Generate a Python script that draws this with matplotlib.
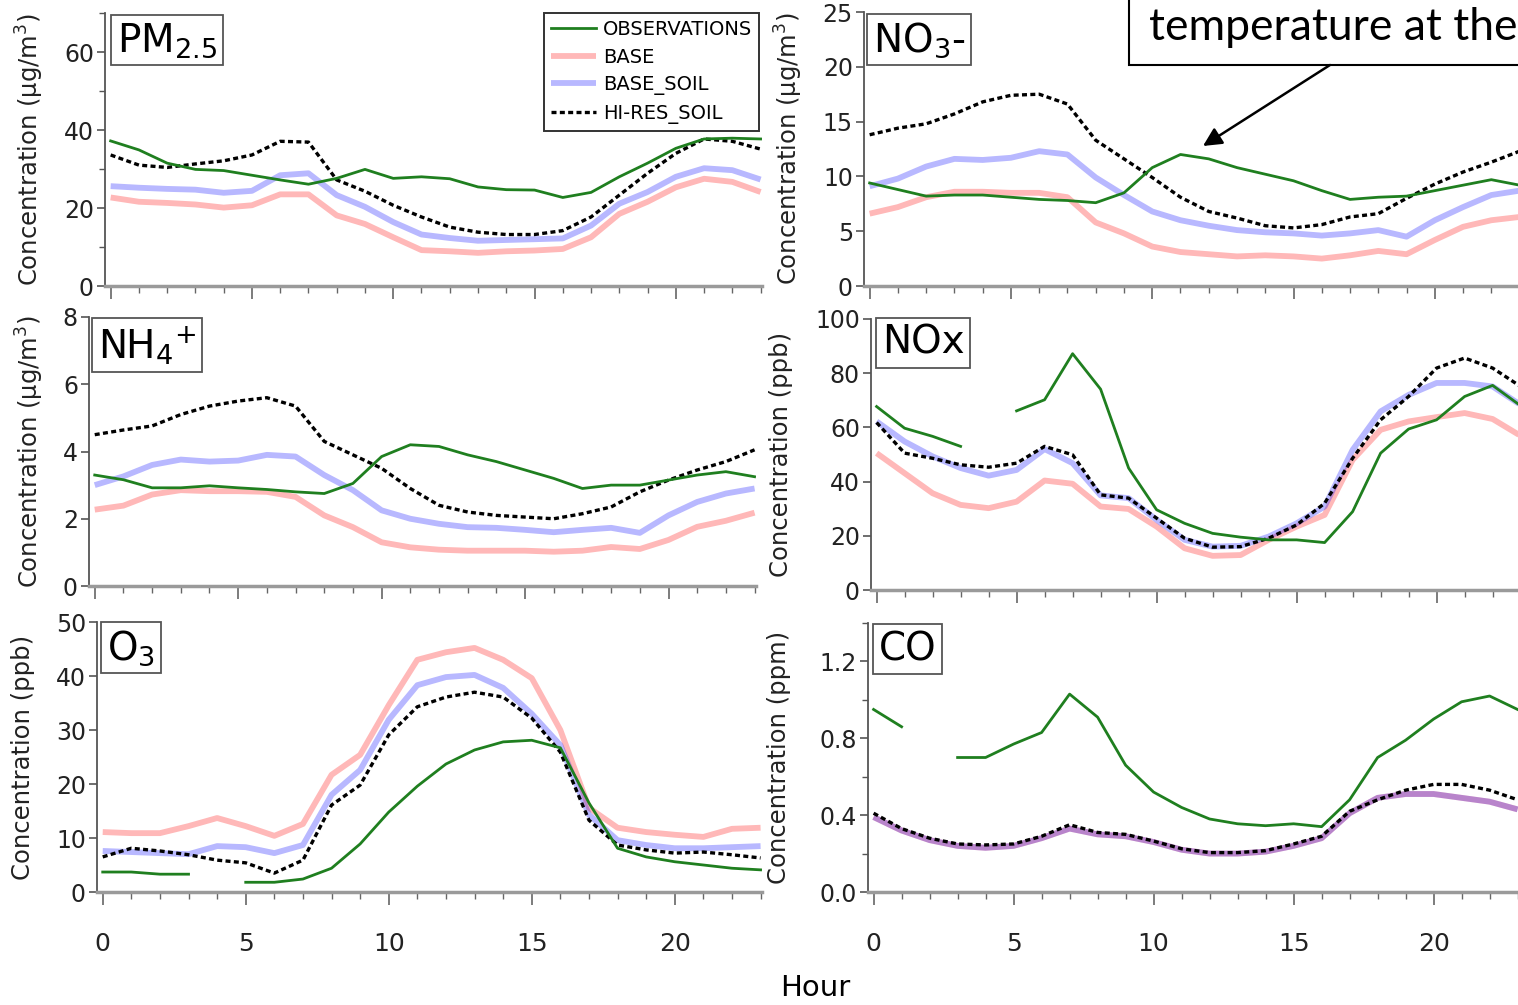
import numpy as np
import matplotlib.pyplot as plt
from matplotlib.patches import Rectangle, FancyArrowPatch
from matplotlib.ticker import MultipleLocator

plt.rcParams['mathtext.default'] = 'regular'
plt.rcParams['font.family'] = ['DejaVu Sans']

nan = np.nan
hours = np.arange(24)

# PM2.5 (ug/m3)
pm_obs = [37.2, 34.9, 31.5, 29.9, 29.6, 28.4, 27.2, 26.1, 27.6, 29.9, 27.6, 28.0,
          27.5, 25.4, 24.7, 24.6, 22.7, 24.0, 28.0, 31.5, 35.3, 37.7, 37.9, 37.7]
pm_base = [22.7, 21.6, 21.3, 20.9, 20.1, 20.7, 23.5, 23.5, 18.1, 15.9, 12.5, 9.2,
           8.9, 8.5, 8.9, 9.1, 9.5, 12.5, 18.5, 21.6, 25.3, 27.5, 26.7, 24.1]
pm_soil = [25.6, 25.2, 24.9, 24.7, 23.9, 24.4, 28.4, 28.9, 23.3, 20.3, 16.4, 13.2,
           12.3, 11.6, 11.8, 12.0, 12.2, 15.5, 21.1, 24.1, 28.0, 30.2, 29.7, 27.3]
pm_hires = [33.6, 31.0, 30.4, 31.3, 32.1, 33.6, 37.1, 36.9, 27.2, 24.3, 20.7, 17.7,
            15.1, 13.8, 13.2, 13.2, 14.2, 17.7, 23.3, 28.9, 34.0, 37.7, 37.1, 35.1]

# NO3- (ug/m3)
no3_obs = [9.4, 8.8, 8.2, 8.3, 8.3, 8.1, 7.9, 7.8, 7.6, 8.5, 10.8, 12.0,
           11.6, 10.8, 10.2, 9.6, 8.7, 7.9, 8.1, 8.2, 8.7, 9.2, 9.7, 9.2]
no3_base = [6.6, 7.2, 8.1, 8.6, 8.6, 8.5, 8.5, 8.1, 5.8, 4.8, 3.6, 3.1,
            2.9, 2.7, 2.8, 2.7, 2.5, 2.8, 3.2, 2.9, 4.2, 5.4, 6.0, 6.3]
no3_soil = [9.1, 9.8, 10.9, 11.6, 11.5, 11.7, 12.3, 12.0, 9.9, 8.3, 6.8, 6.0,
            5.5, 5.1, 4.9, 4.8, 4.6, 4.8, 5.1, 4.5, 6.0, 7.2, 8.3, 8.7]
no3_hires = [13.8, 14.4, 14.8, 15.7, 16.8, 17.4, 17.5, 16.6, 13.3, 11.6, 9.9, 8.1,
             6.8, 6.2, 5.5, 5.3, 5.6, 6.3, 6.6, 8.0, 9.3, 10.4, 11.3, 12.3]

# NH4+ (ug/m3)
nh4_obs = [3.3, 3.16, 2.92, 2.92, 2.98, 2.92, 2.87, 2.8, 2.75, 3.05, 3.85, 4.2,
           4.15, 3.9, 3.7, 3.45, 3.2, 2.9, 3.0, 3.0, 3.15, 3.3, 3.4, 3.25]
nh4_base = [2.27, 2.39, 2.72, 2.85, 2.82, 2.82, 2.8, 2.65, 2.1, 1.75, 1.3, 1.15,
            1.08, 1.05, 1.05, 1.05, 1.02, 1.05, 1.16, 1.1, 1.37, 1.76, 1.94, 2.18]
nh4_soil = [3.0, 3.26, 3.6, 3.76, 3.7, 3.73, 3.9, 3.85, 3.3, 2.85, 2.25, 2.0,
            1.85, 1.75, 1.73, 1.67, 1.6, 1.67, 1.73, 1.58, 2.1, 2.5, 2.75, 2.9]
nh4_hires = [4.5, 4.64, 4.76, 5.1, 5.35, 5.5, 5.6, 5.35, 4.3, 3.9, 3.5, 2.9,
             2.4, 2.2, 2.1, 2.05, 2.0, 2.15, 2.35, 2.8, 3.15, 3.45, 3.7, 4.05]

# NOx (ppb)
nox_obs = [67.7, 59.7, 56.7, 53.0, nan, 66.1, 70.2, 87.2, 74.1, 45.0, 29.6, 24.6,
           20.9, 19.5, 18.5, 18.5, 17.5, 28.9, 50.5, 59.4, 62.8, 71.4, 75.5, 68.0]
nox_base = [50.5, 43.1, 35.7, 31.4, 30.2, 32.6, 40.4, 39.2, 30.8, 29.9, 23.4, 15.4,
            12.6, 12.9, 18.5, 23.4, 27.7, 48.0, 59.1, 62.2, 63.8, 65.3, 63.1, 56.9]
nox_soil = [62.2, 54.8, 49.3, 45.0, 42.2, 44.3, 52.0, 46.8, 34.9, 33.9, 25.9, 18.5,
            16.0, 16.3, 19.7, 24.6, 30.8, 51.7, 65.9, 72.0, 76.4, 76.4, 75.1, 68.3]
nox_hires = [61.8, 50.5, 48.6, 46.2, 45.3, 46.8, 53.0, 49.9, 35.1, 33.9, 26.5, 19.1,
             15.8, 16.0, 19.1, 24.0, 32.0, 48.6, 62.8, 71.4, 81.9, 85.6, 81.9, 75.1]

# O3 (ppb)
o3_obs = [3.7, 3.7, 3.3, 3.3, nan, 1.8, 1.8, 2.4, 4.4, 8.9, 14.8, 19.6,
          23.7, 26.3, 27.8, 28.1, 26.7, 16.5, 8.1, 6.5, 5.6, 5.0, 4.4, 4.1]
o3_base = [11.1, 10.9, 10.9, 12.2, 13.7, 12.2, 10.4, 12.6, 21.7, 25.4, 34.6, 43.0,
           44.4, 45.2, 43.0, 39.6, 30.0, 15.6, 11.9, 11.1, 10.6, 10.2, 11.7, 11.9]
o3_soil = [7.6, 7.4, 7.2, 7.0, 8.5, 8.3, 7.2, 8.7, 18.0, 22.6, 31.9, 38.3,
           39.8, 40.2, 37.8, 33.0, 27.2, 14.3, 9.6, 8.7, 8.1, 8.1, 8.3, 8.5]
o3_hires = [6.5, 8.1, 7.6, 6.9, 5.9, 5.4, 3.5, 5.9, 16.1, 19.8, 29.1, 34.3,
            36.1, 37.0, 36.1, 32.2, 25.9, 13.3, 8.7, 7.8, 7.2, 7.4, 6.9, 6.3]

# CO (ppm)
co_obs = [0.95, 0.86, nan, 0.70, 0.70, 0.77, 0.83, 1.03, 0.91, 0.66, 0.52, 0.44,
          0.38, 0.355, 0.345, 0.355, 0.34, 0.48, 0.70, 0.79, 0.90, 0.99, 1.02, 0.95]
co_base = [0.39, 0.32, 0.27, 0.24, 0.23, 0.24, 0.28, 0.33, 0.30, 0.29, 0.26, 0.22,
           0.20, 0.20, 0.21, 0.24, 0.28, 0.41, 0.49, 0.51, 0.51, 0.49, 0.47, 0.43]
co_soil = [0.39, 0.32, 0.27, 0.24, 0.23, 0.24, 0.28, 0.33, 0.30, 0.29, 0.26, 0.22,
           0.20, 0.20, 0.21, 0.24, 0.28, 0.41, 0.49, 0.51, 0.51, 0.49, 0.47, 0.43]
co_hires = [0.41, 0.33, 0.28, 0.25, 0.245, 0.25, 0.29, 0.35, 0.31, 0.30, 0.265, 0.225,
            0.205, 0.205, 0.215, 0.25, 0.29, 0.42, 0.48, 0.53, 0.56, 0.56, 0.53, 0.48]

W, H = 1518, 1005
fig = plt.figure(figsize=(W / 100, H / 100), dpi=100)

UG = r'Concentration ($\mu$g/m$^{3}$)'
# (data, ylim top, major, minor, ylabel, panel name, axes box px [left, right, top, bottom], ylabel x px, name box px)
panels = [
    ((pm_obs, pm_base, pm_soil, pm_hires), 70, 20, 10, UG, r'PM$_{2.5}$', (105, 762, 13, 286), 30, (112, 15)),
    ((no3_obs, no3_base, no3_soil, no3_hires), 25, 5, None, UG, r'NO$_3$-', (864, 1521, 12, 286), 789, (868, 14)),
    ((nh4_obs, nh4_base, nh4_soil, nh4_hires), 8, 2, None, UG, r'NH$_4$$^{+}$', (89, 756, 317, 586), 30, (93, 318)),
    ((nox_obs, nox_base, nox_soil, nox_hires), 100, 20, None, 'Concentration (ppb)', 'NOx', (871, 1522, 319, 590), 781, (877, 318)),
    ((o3_obs, o3_base, o3_soil, o3_hires), 50, 10, None, 'Concentration (ppb)', r'O$_3$', (97, 762, 622, 892), 23, (102, 622)),
    ((co_obs, co_base, co_soil, co_hires), 1.4, 0.4, 0.2, 'Concentration (ppm)', 'CO', (868, 1519, 623, 892), 779, (874, 624)),
]

green = '#1f7f1f'
names = ['OBSERVATIONS', 'BASE', 'BASE_SOIL', 'HI-RES_SOIL']

for i, (data, ytop, major, minor, ylab, name, box, labx, namepos) in enumerate(panels):
    left, right, top, bottom = box
    ax = fig.add_axes([left / W, 1 - bottom / H, (right - left) / W, (bottom - top) / H])
    obs, base, soil, hires = data
    ax.plot(hours, base, color='red', alpha=0.28, lw=4.2, solid_capstyle='butt', label=names[1])
    ax.plot(hours, soil, color='blue', alpha=0.28, lw=4.2, solid_capstyle='butt', label=names[2])
    ax.plot(hours, hires, color='black', lw=2.4, ls=(0, (1.5, 1.0)), label=names[3])
    ax.plot(hours, obs, color=green, lw=2.0, label=names[0])

    ax.set_xlim(-0.2, 23.05)
    ax.set_ylim(0, ytop)
    ax.xaxis.set_major_locator(MultipleLocator(5))
    ax.xaxis.set_minor_locator(MultipleLocator(1))
    ax.yaxis.set_major_locator(MultipleLocator(major))
    if minor:
        ax.yaxis.set_minor_locator(MultipleLocator(minor))
    if ytop == 1.4:
        ax.yaxis.set_major_formatter(plt.FormatStrFormatter('%.1f'))

    for s in ['top', 'right']:
        ax.spines[s].set_visible(False)
    ax.spines['left'].set_color('#555555')
    ax.spines['left'].set_linewidth(1.3)
    ax.spines['bottom'].set_color('#9a9a9a')
    ax.spines['bottom'].set_linewidth(2.5)
    ax.tick_params(axis='y', which='major', direction='out', length=6, width=1.2,
                   color='#555555', labelsize=17, labelcolor='#222222', pad=2)
    ax.tick_params(axis='y', which='minor', direction='out', length=4, width=1.0, color='#555555')
    ax.tick_params(axis='x', which='major', direction='out', length=9, width=1.2, color='#666666')
    ax.tick_params(axis='x', which='minor', direction='out', length=5, width=1.0, color='#666666')
    if i < 4:
        ax.tick_params(axis='x', labelbottom=False)
    else:
        ax.tick_params(axis='x', labelsize=18, pad=20, labelcolor='#222222')
        for t in ax.get_xticklabels():
            t.set_family(['Liberation Sans Narrow', 'DejaVu Sans'])

    ax.set_ylabel(ylab, fontsize=17.5, color='#222222', va='center')
    ax.yaxis.set_label_coords((labx - left) / (right - left), 0.5)

    fig.text((namepos[0] + 5) / W, 1 - (namepos[1] + 6) / H, name, fontsize=28,
             ha='left', va='top',
             bbox=dict(boxstyle='square,pad=0.15', fc='white', ec='#555555', lw=1.3))

    if i == 0:
        handles, labels = ax.get_legend_handles_labels()
        order = [3, 0, 1, 2]
        leg = ax.legend([handles[k] for k in order], [labels[k] for k in order],
                        loc='upper right', bbox_to_anchor=(0.995, 1.0), borderaxespad=0.0,
                        fancybox=False, framealpha=1, edgecolor='#333333',
                        handlelength=2.3, handletextpad=0.35, labelspacing=0.45,
                        borderpad=0.35, prop={'family': ['Liberation Sans Narrow', 'DejaVu Sans'], 'size': 14})
        leg.get_frame().set_linewidth(1.4)

fig.text(815 / W, 1 - 988 / H, 'Hour', fontsize=21, ha='center', va='center',
         family=['Liberation Sans Narrow', 'DejaVu Sans'])

# annotation box cut by the figure edge
fig.patches.append(Rectangle((1129 / W, 1 - 65 / H), 420 / W, 90 / H, transform=fig.transFigure,
                             fc='white', ec='black', lw=1.5, zorder=5))
fig.text(1149 / W, 1 - 27 / H, 'temperature at the', fontsize=32, ha='left', va='center',
         family=['Lato', 'DejaVu Sans'], zorder=6)
fig.add_artist(FancyArrowPatch((1330 / W, 1 - 65 / H), (1203 / W, 1 - 146 / H),
                               transform=fig.transFigure, arrowstyle='-|>', mutation_scale=28,
                               color='black', lw=1.8, shrinkA=0, shrinkB=0, zorder=6))

fig.savefig('out.png', dpi=100)
